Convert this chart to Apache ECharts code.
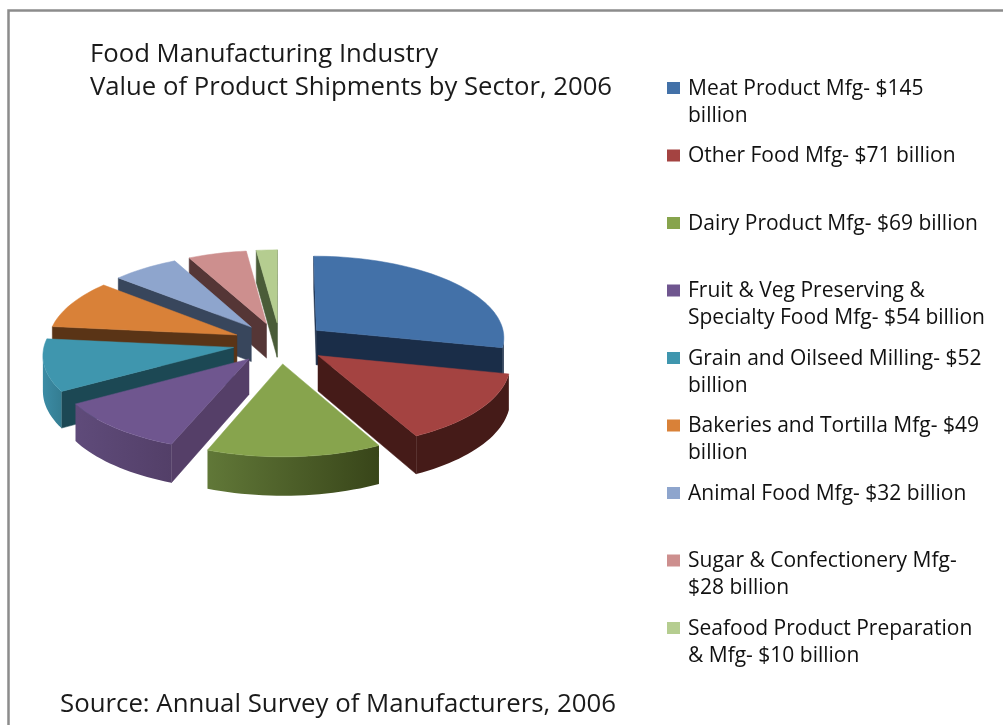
<!DOCTYPE html>
<html>
<head>
<meta charset="utf-8">
<style>html,body{margin:0;padding:0;background:#fff}#chart{width:1003px;height:725px}</style>
<script src="https://cdn.jsdelivr.net/npm/echarts@6/dist/echarts.min.js"></script>
</head>
<body>
<div id="chart"></div>
<script>
// Food manufacturing shipments by sector, 2006 (billions of dollars)
const shipments = [145, 71, 69, 54, 52, 49, 32, 28, 10];
const legendLabels = [
  'Meat Product Mfg- $145\nbillion',
  'Other Food Mfg- $71 billion',
  'Dairy Product Mfg- $69 billion',
  'Fruit & Veg Preserving &\nSpecialty Food Mfg- $54 billion',
  'Grain and Oilseed Milling- $52\nbillion',
  'Bakeries and Tortilla Mfg- $49\nbillion',
  'Animal Food Mfg- $32 billion',
  'Sugar & Confectionery Mfg-\n$28 billion',
  'Seafood Product Preparation\n& Mfg- $10 billion'
];
const topColors = ['#4371a8', '#a44341', '#87a44d', '#6f568f', '#3f96ae', '#d98138', '#8ea5cd', '#cd8f8e', '#b5cd90'];
const radialWallColors = ['#1a2d48', '#451b18', '#4f6329', '#553f68', '#1c4854', '#5a3416', '#38465c', '#553636', '#4a5c38'];
const rimWallLeft = ['#1a2d48', '#451b18', '#617838', '#5f4b7a', '#3c8ca5', '#5a3416', '#38465c', '#553636', '#4a5c38'];
const rimWallRight = ['#1a2d48', '#451b18', '#384519', '#533f68', '#347d92', '#5a3416', '#38465c', '#553636', '#4a5c38'];
const titleText = 'Food Manufacturing Industry\nValue of Product Shipments by Sector, 2006';
const sourceText = 'Source: Annual Survey of Manufacturers, 2006';

// Projection of the tilted, exploded disc onto the page
const view = { cx: 280, cy: 343, rx: 189, ry: 82, perspective: 0.08, explode: 0.25, depth: 35 };
const total = shipments.reduce((a, b) => a + b, 0);
const RAD = Math.PI / 180;

function project(u, v) {
  const s = 1 / (1 - view.perspective * v);
  return { x: view.cx + u * view.rx * s, y: view.cy + v * view.ry * s, h: view.depth * s };
}

// Angular span of each slice, clockwise from twelve o'clock
const spans = [];
shipments.reduce((start, value) => {
  const sweep = value / total * 360;
  spans.push({ start, end: start + sweep, mid: start + sweep / 2 });
  return start + sweep;
}, 0);

function sliceOutline(i) {
  const { start, end, mid } = spans[i];
  const ou = view.explode * Math.sin(mid * RAD);
  const ov = -view.explode * Math.cos(mid * RAD);
  const rim = [];
  const steps = Math.max(2, Math.ceil((end - start) / 2));
  for (let k = 0; k <= steps; k++) {
    const a = (start + (end - start) * k / steps) * RAD;
    rim.push(project(ou + Math.sin(a), ov - Math.cos(a)));
  }
  return { apex: project(ou, ov), rim };
}

function wall(a, b) {
  return [[a.x, a.y], [b.x, b.y], [b.x, b.y + b.h], [a.x, a.y + a.h]];
}

function renderSlice(i) {
  const { apex, rim } = sliceOutline(i);
  const children = [];
  const addWall = (points, fill) => children.push({
    type: 'polygon',
    shape: { points },
    style: { fill, stroke: typeof fill === 'string' ? fill : 'transparent', lineWidth: 0.5 }
  });

  // Radial faces are only seen when the edge runs leftwards across the page
  const first = rim[0];
  const last = rim[rim.length - 1];
  if (first.x < apex.x) addWall(wall(apex, first), radialWallColors[i]);
  if (apex.x < last.x) addWall(wall(last, apex), radialWallColors[i]);

  // Visible stretches of the outer rim
  let run = [];
  const flush = () => {
    if (run.length > 1) {
      const lower = run.slice().reverse().map(p => [p.x, p.y + p.h]);
      const points = run.map(p => [p.x, p.y]).concat(lower);
      addWall(points, new echarts.graphic.LinearGradient(0, 0, 1, 0, [
        { offset: 0, color: rimWallLeft[i] },
        { offset: 1, color: rimWallRight[i] }
      ]));
    }
    run = [];
  };
  for (let k = 0; k < rim.length - 1; k++) {
    if (rim[k + 1].x < rim[k].x) {
      if (!run.length) run.push(rim[k]);
      run.push(rim[k + 1]);
    } else {
      flush();
    }
  }
  flush();

  // Top face
  children.push({
    type: 'polygon',
    shape: { points: [[apex.x, apex.y]].concat(rim.map(p => [p.x, p.y])) },
    style: { fill: topColors[i], stroke: topColors[i], lineWidth: 0.5 }
  });
  return { type: 'group', children };
}

const sansFont = '"Open Sans"';
const chart = echarts.init(document.getElementById('chart'), null, { renderer: 'canvas' });
chart.setOption({
  animation: false,
  backgroundColor: '#ffffff',
  title: [
    {
      text: titleText, left: 90, top: 38, padding: 0,
      textStyle: { fontFamily: sansFont, fontSize: 25.7, fontWeight: 'normal', color: '#1a1a1a', lineHeight: 33 }
    },
    {
      text: sourceText, left: 60, top: 688, padding: 0,
      textStyle: { fontFamily: sansFont, fontSize: 25.8, fontWeight: 'normal', color: '#1a1a1a', lineHeight: 33 }
    }
  ],
  legend: {
    orient: 'vertical',
    left: 667,
    top: 75.5,
    padding: 0,
    itemWidth: 16,
    itemHeight: 54,
    itemGap: 13.5,
    selectedMode: false,
    // Square sits level with the first text line; the empty sub-path keeps the box full size
    icon: 'path://M0 6.5H13V18.5H0Z M0 0H16V0H0Z M0 54H16V54H0Z',
    symbolKeepAspect: false,
    data: legendLabels,
    formatter: name => name.includes('\n') ? name : name + '\n ',
    textStyle: { fontFamily: sansFont, fontSize: 21, color: '#111111', lineHeight: 27 }
  },
  graphic: [
    {
      type: 'polyline',
      shape: { points: [[8.5, 725], [8.5, 10.5], [1003, 10.5]] },
      style: { fill: 'none', stroke: '#8c8c8c', lineWidth: 2.5 },
      silent: true
    }
  ],
  series: shipments.map((value, i) => ({
    type: 'custom',
    name: legendLabels[i],
    coordinateSystem: 'none',
    silent: true,
    // Back slices are painted first so nearer ones overlap them
    z: 3 - Math.cos(spans[i].mid * RAD),
    itemStyle: { color: topColors[i] },
    data: [[value]],
    renderItem: () => renderSlice(i)
  }))
});
</script>
</body>
</html>
